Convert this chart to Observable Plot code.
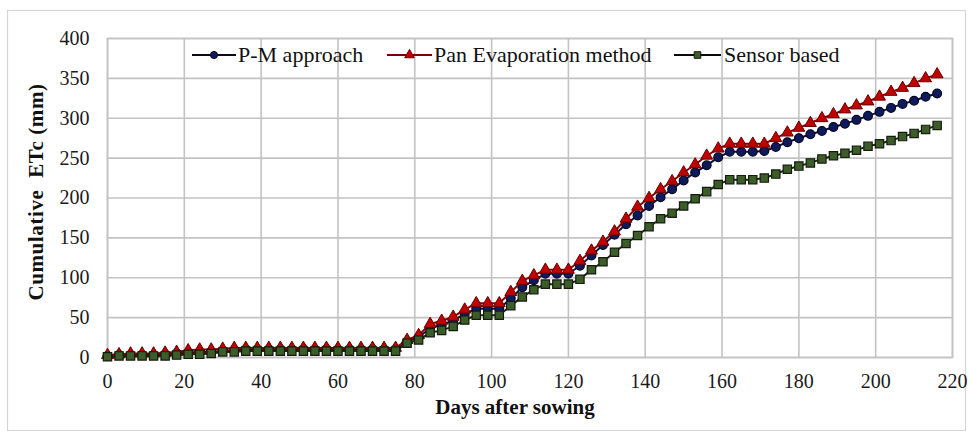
<!DOCTYPE html>
<html>
<head>
<meta charset="utf-8">
<script src="https://cdn.jsdelivr.net/npm/d3@7"></script>
<script src="https://cdn.jsdelivr.net/npm/@observablehq/plot@0.6"></script>
<style>
  html, body { margin: 0; padding: 0; background: #fff; }
  #chart { width: 971px; height: 431px; }
</style>
</head>
<body>
<div id="chart"></div>
<script>
// ---------- DATA ----------
const days = [0,3,6,9,12,15,18,21,24,27,30,33,36,39,42,45,48,51,54,57,60,63,66,69,72,75,
  78,81,84,87,90,93,96,99,102,105,108,111,114,117,120,123,126,129,132,135,138,141,144,147,
  150,153,156,159,162,165,168,171,174,177,180,183,186,189,192,195,198,201,204,207,210,213,216];

const pmApproach = [2,3,3,3,3,4,5,6,7,7,8,9,10,10,10,10,10,10,10,10,10,10,10,10,10,10,
  20,25,37,41,46,55,61,61,61,74,88,97,105,105,105,115,128,141,154,167,178,190,201,211,
  222,232,241,251,258,258,258,259,264,270,275,280,284,289,293,298,303,308,313,318,322,327,331];

const panEvaporation = [3,4,5,5,5,6,7,9,10,10,11,12,12,12,12,12,12,12,12,12,12,12,12,12,12,12,
  22,28,42,46,51,60,68,68,68,82,96,103,110,110,110,121,134,145,158,174,189,200,211,221,
  232,242,253,262,268,268,268,268,275,282,288,294,300,305,311,316,321,327,333,338,344,350,355];

const sensorBased = [1,2,2,2,2,2,3,4,4,5,7,7,8,8,8,8,8,8,8,8,8,8,8,8,8,8,
  18,22,31,34,39,47,53,53,53,65,76,85,92,92,92,98,110,120,132,143,153,164,174,181,
  190,199,208,217,223,223,223,225,230,236,240,244,249,253,256,260,265,268,272,277,281,286,291];

const seriesNames = ["P-M approach", "Pan Evaporation method", "Sensor based"];
const xTicks = [0,20,40,60,80,100,120,140,160,180,200,220];
const yTicks = [0,50,100,150,200,250,300,350,400];
const xTitle = "Days after sowing";
const yTitle = "Cumulative  ETc (mm)";

// ---------- build tables ----------
const toRows = (vals, name) => days.map((d, i) => ({day: d, value: vals[i], series: name}));
const pmRows = toRows(pmApproach, seriesNames[0]);
const panRows = toRows(panEvaporation, seriesNames[1]);
const sensorRows = toRows(sensorBased, seriesNames[2]);

const serif = '"Liberation Serif", "Times New Roman", Times, serif';
const gridColor = "#c3c3c3";

const style = {
  pm:     {line: "#0b1038", fill: "#0e1a5c", stroke: "#05081f"},
  pan:    {line: "#8a0000", fill: "#c00000", stroke: "#6a0000"},
  sensor: {line: "#1a2412", fill: "#3c5c2a", stroke: "#141c0e"}
};

const chart = Plot.plot({
  width: 971,
  height: 431,
  marginTop: 38,
  marginBottom: 74,
  marginLeft: 107,
  marginRight: 19,
  style: {fontFamily: serif, fontSize: "20px", color: "#1a1a1a", background: "#fff", overflow: "visible"},
  x: {domain: [0, 220], label: null},
  y: {domain: [0, 400], label: null},
  marks: [
    Plot.gridX(xTicks, {stroke: gridColor, strokeOpacity: 1, strokeWidth: 1.6}),
    Plot.gridY(yTicks, {stroke: gridColor, strokeOpacity: 1, strokeWidth: 1.6}),
    Plot.frame({stroke: gridColor, strokeWidth: 1.6}),
    Plot.axisX(xTicks, {tickSize: 0, tickPadding: 16, label: null, fontSize: 20}),
    Plot.axisY(yTicks, {tickSize: 0, tickPadding: 18, label: null, fontSize: 20}),
    Plot.line(pmRows, {x: "day", y: "value", stroke: style.pm.line, strokeWidth: 2}),
    Plot.dot(pmRows, {x: "day", y: "value", symbol: "circle", r: 4.4, fill: style.pm.fill, stroke: style.pm.stroke, strokeWidth: 1.2}),
    Plot.line(panRows, {x: "day", y: "value", stroke: style.pan.line, strokeWidth: 2}),
    Plot.dot(panRows, {x: "day", y: "value", symbol: "triangle", r: 4.4, fill: style.pan.fill, stroke: style.pan.stroke, strokeWidth: 1}),
    Plot.line(sensorRows, {x: "day", y: "value", stroke: style.sensor.line, strokeWidth: 2}),
    Plot.dot(sensorRows, {x: "day", y: "value", symbol: "square", r: 4.7, fill: style.sensor.fill, stroke: style.sensor.stroke, strokeWidth: 1.2})
  ]
});

document.getElementById("chart").appendChild(chart);

// ---------- decorations: outer border, axis titles, in-plot legend ----------
const svg = d3.select(chart);

svg.insert("rect", ":first-child")
  .attr("x", 7.5).attr("y", 10.5).attr("width", 958).attr("height", 420)
  .attr("fill", "none").attr("stroke", "#d6d6d6").attr("stroke-width", 1.2);

svg.append("text")
  .attr("x", 515).attr("y", 414)
  .attr("text-anchor", "middle")
  .style("font-family", serif).attr("font-size", 21).attr("font-weight", "bold")
  .attr("fill", "#111")
  .text(xTitle);

svg.append("text")
  .attr("transform", "translate(43,192) rotate(-90)")
  .attr("text-anchor", "middle")
  .style("font-family", serif).attr("font-size", 21).attr("font-weight", "bold")
  .attr("fill", "#111")
  .style("white-space", "pre")
  .attr("letter-spacing", 0.6)
  .text(yTitle);

const legendItems = [
  {name: seriesNames[0], sym: d3.symbolCircle, size: 40, st: style.pm, line: "#0a0a1a", x1: 192, x2: 236, tx: 238},
  {name: seriesNames[1], sym: d3.symbolTriangle, size: 40, st: style.pan, line: "#7a0000", x1: 387, x2: 432, tx: 434},
  {name: seriesNames[2], sym: d3.symbolSquare, size: 44, st: style.sensor, line: "#0a0a0a", x1: 674, x2: 721, tx: 724}
];
const legendY = 55;
const lg = svg.append("g");
legendItems.forEach(it => {
  lg.append("line")
    .attr("x1", it.x1).attr("x2", it.x2).attr("y1", legendY).attr("y2", legendY)
    .attr("stroke", it.line).attr("stroke-width", 2.2);
  lg.append("path")
    .attr("d", d3.symbol(it.sym, it.size)())
    .attr("transform", `translate(${(it.x1 + it.x2) / 2},${legendY})`)
    .attr("fill", it.st.fill).attr("stroke", it.st.stroke).attr("stroke-width", 1);
  lg.append("text")
    .attr("x", it.tx).attr("y", legendY + 7)
    .attr("text-anchor", "start")
    .style("font-family", serif).style("font-size", "22px")
    .attr("fill", "#111")
    .text(it.name);
});
</script>
</body>
</html>
